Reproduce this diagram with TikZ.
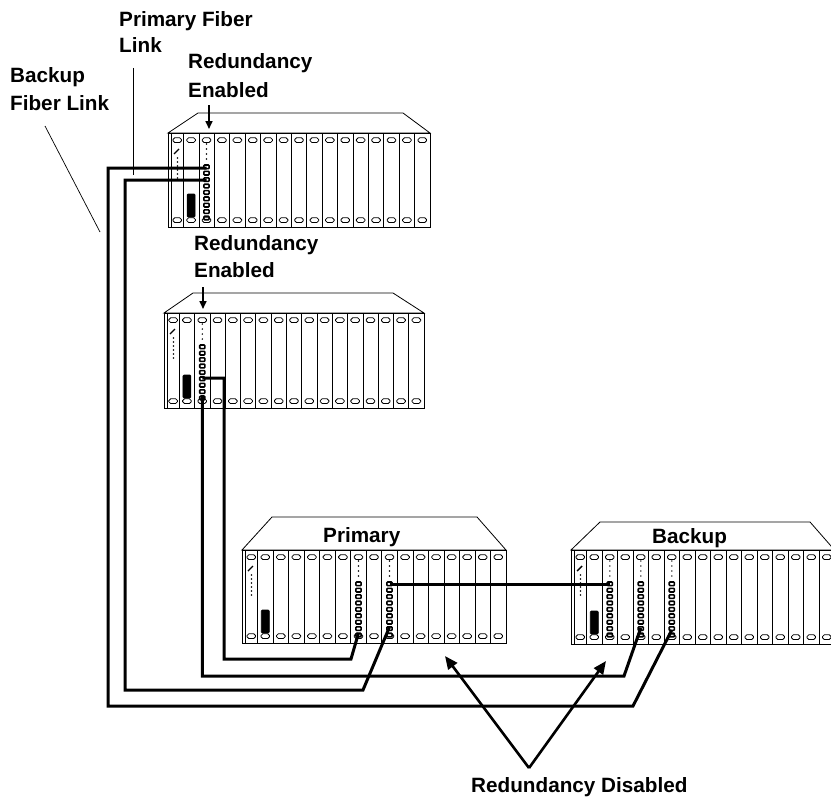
\documentclass[tikz,border=0pt]{standalone}
\usepackage{fontspec}
\setmainfont{Liberation Sans}
\usetikzlibrary{arrows.meta}
\tikzset{
  rackframe/.style={draw=black, line width=0.8bp, fill=white},
  slotline/.style={draw=black, line width=0.6bp},
  slotoval/.style={draw=black, line width=0.8bp, rounded corners=1.8bp},
  cableline/.style={draw=black, line width=3bp, line join=miter},
  pointerline/.style={draw=black, line width=0.7bp},
  lbl/.style={font=\fontsize{20.7bp}{24bp}\selectfont\bfseries, inner sep=0pt, anchor=base west},
  bigarrow/.style={draw=black, line width=2.6bp, -{Triangle[length=13bp,width=11bp]}},
  smallarrow/.style={draw=black, line width=1.6bp, -{Triangle[length=8bp,width=7bp]}},
}
% #1 name, #2 L, #3 top, #4 R, #5 bottom, #6 lidTop, #7 lidL, #8 lidR
\newcommand{\rackunit}[8]{%
  \pgfmathsetmacro{\rw}{(#4-#2)/17}%
  \pgfmathsetmacro{\fw}{#4-#2}%
  \pgfmathsetmacro{\fh}{#5-#3}%
  \filldraw[rackframe] (#2,#3) -- (#7,#6) -- (#8,#6) -- (#4,#3) -- cycle;
  \node[rackframe, rectangle, inner sep=0pt, minimum width=\fw bp, minimum height=\fh bp, anchor=north west] (#1) at (#2,#3) {};
  \draw[slotline] ({#2+3.5},#3) -- ({#2+3.5},#5);
  \foreach \k in {1,...,16} {\draw[slotline] ({#2+\k*\rw},#3) -- ({#2+\k*\rw},#5);}
  \foreach \k in {0,...,16} {%
    \pgfmathsetmacro{\cx}{#2+(\k+0.5)*\rw+(\k==0)*1.5}%
    \draw[slotoval] ({\cx-4.3},{#3+4.8}) rectangle ({\cx+4.3},{#3+9.5});
    \draw[slotoval] ({\cx-4.3},{#5-9.2}) rectangle ({\cx+4.3},{#5-4.5});
  }
  % slot 1: status LEDs
  \draw[line width=1.4bp] ({#2+6},{#3+21}) -- ({#2+11},{#3+16});
  \foreach \j in {0,...,5} {\fill ({#2+9.5},{#3+25+\j*4}) circle (0.8);}
  % slot 2: display
  \pgfmathsetmacro{\dx}{#2+1.5*\rw}%
  \filldraw[draw=black, fill=black, line width=0.6bp, rounded corners=1bp] ({\dx-4},{#5-33}) rectangle ({\dx+4},{#5-10});
}
% connector column: #1 name prefix, #2 x, #3 top of chassis
\newcommand{\conncol}[3]{%
  \foreach \j in {0,...,3} {\fill (#2,{#3+11+\j*5}) circle (0.8);}
  \foreach \j in {0,...,8} {\draw[line width=1.6bp, rounded corners=0.8bp] ({#2-2.6},{#3+32+\j*6.4}) rectangle ({#2+2.6},{#3+35.6+\j*6.4});}
}
\begin{document}
\begin{tikzpicture}[x=1bp, y=-1bp]
\useasboundingbox (0,0) rectangle (831,797);
\fill[white] (0,0) rectangle (831,797);

% chassis
\rackunit{top}{168}{133}{430}{227}{113}{198}{403}
\conncol{t}{206.5}{133}
\rackunit{mid}{164}{313}{424}{408}{293}{193}{393}
\conncol{m}{202.3}{313}
\rackunit{prim}{242}{550}{506}{643}{517}{272}{477}
\conncol{p8}{358.5}{550}
\conncol{p10}{389.5}{550}
\rackunit{back}{571}{550}{834.5}{644}{522}{600}{810}
\conncol{b3}{609.8}{550}
\conncol{b5}{640.8}{550}
\conncol{b7}{671.8}{550}

% connector points
\coordinate (Tc1) at (206.5,168);
\coordinate (Tc2) at (206.5,180);
\coordinate (Mc1) at (202.3,378);
\coordinate (Mc2) at (202.3,395);
\coordinate (Pc8) at (358.5,633);
\coordinate (Pc10) at (389.5,627);
\coordinate (Pc10t) at (389.5,584);
\coordinate (Bc3) at (609.8,584);
\coordinate (Bc5) at (640.8,628);
\coordinate (Bc7) at (671.8,630);

% cables
\draw[cableline] (Tc1) -- (108,168) -- (108,706) -- (633,706) -- (Bc7);
\draw[cableline] (Tc2) -- (125,180) -- (125,690) -- (363,690) -- (Pc10);
\draw[cableline] (Mc1) -- (224,378) -- (224,659) -- (351,659) -- (Pc8);
\draw[cableline] (Mc2) -- (202.3,676) -- (624,676) -- (Bc5);
\draw[cableline] (Pc10t) -- (Bc3);

% labels
\node[lbl] (pfl1) at (119,27) {Primary Fiber};
\node[lbl] (pfl2) at (119,53) {Link};
\node[lbl] (bfl1) at (10,83) {Backup};
\node[lbl] (bfl2) at (10,110) {Fiber Link};
\node[lbl] (re1a) at (188,69) {Redundancy};
\node[lbl] (re1b) at (188,97) {Enabled};
\node[lbl] (re2a) at (194,250) {Redundancy};
\node[lbl] (re2b) at (194,277) {Enabled};
\node[lbl] (primlbl) at (323,542) {Primary};
\node[lbl] (backlbl) at (652,543) {Backup};
\node[lbl] (rdis) at (471,792) {Redundancy Disabled};

% pointers
\coordinate (pfp) at (133,68);
\coordinate (pfe) at (133,175);
\draw[pointerline] (pfp) -- (pfe);
\coordinate (bfp) at (45,126);
\coordinate (bfe) at (100,232);
\draw[pointerline] (bfp) -- (bfe);

% redundancy enabled arrows
\coordinate (e1s) at (209,105);
\coordinate (e1t) at (209,129);
\draw[smallarrow] (e1s) -- (e1t);
\coordinate (e2s) at (203,287);
\coordinate (e2t) at (203,309);
\draw[smallarrow] (e2s) -- (e2t);

% redundancy disabled arrows
\coordinate (apex) at (529,768);
\coordinate (dp) at (445,656);
\coordinate (db) at (606,661);
\draw[bigarrow] (apex) -- (dp);
\draw[bigarrow] (apex) -- (db);
\end{tikzpicture}
\end{document}
